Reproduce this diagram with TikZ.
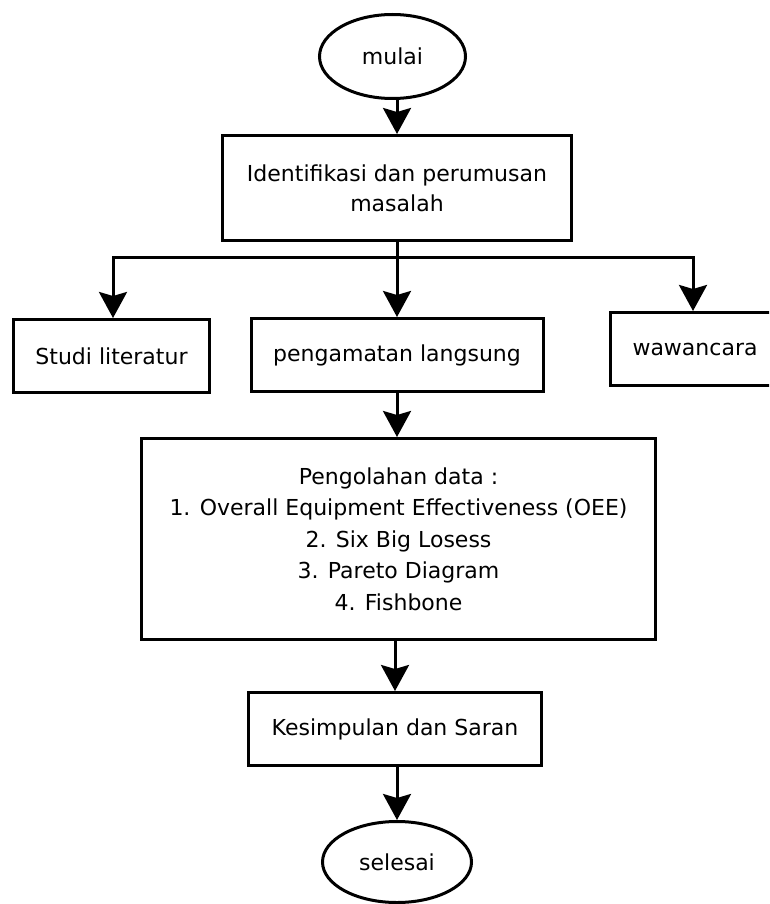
\documentclass[tikz,border=0pt]{standalone}
\usepackage{fontspec}
\setmainfont{DejaVu Sans}
\usetikzlibrary{shapes.geometric,arrows.meta}
\begin{document}
\begin{tikzpicture}[x=1pt,y=-1pt,
  every node/.style={font=\fontsize{22}{31.5}\selectfont, inner sep=0pt, line width=3pt, draw=black, align=center},
  boxnode/.style={rectangle},
  ovalnode/.style={ellipse},
  arr/.style={line width=3pt, -{Stealth[length=26pt,width=28pt,inset=4pt]}},
  ln/.style={line width=3pt}]
\useasboundingbox (0,0) rectangle (769,904);
\begin{scope}
\clip (0,0) rectangle (769,904);
\node[ovalnode, minimum width=146pt, minimum height=84pt] (mulai) at (392.5,56.5) {mulai};
\node[boxnode, minimum width=349pt, minimum height=105pt, font=\fontsize{22}{30}\selectfont] (ident) at (397,188) {Identifikasi dan perumusan\\masalah};
\node[boxnode, minimum width=196pt, minimum height=73pt] (studi) at (111.5,356) {Studi literatur};
\node[boxnode, minimum width=292pt, minimum height=73pt] (penga) at (397,355) {pengamatan langsung};
\node[boxnode, minimum width=169pt, minimum height=73pt] (wawan) at (695,349) {wawancara};
\node[boxnode, minimum width=514pt, minimum height=201pt] (olah) at (398.5,539) {Pengolahan data :\\1. Overall Equipment Effectiveness (OEE)\\2. Six Big Losess\\3. Pareto Diagram\\4. Fishbone};
\node[boxnode, minimum width=293pt, minimum height=73pt] (kesim) at (395,729) {Kesimpulan dan Saran};
\node[ovalnode, minimum width=149pt, minimum height=81pt] (selesai) at (397,862) {selesai};
\coordinate (jl) at (113,257);
\coordinate (jr) at (693,257);
\draw[arr] (mulai.south -| ident.north) -- (ident.north);
\draw[arr] (jl -| ident.south) -- (jl) -- (jl |- studi.north);
\draw[arr] (jl -| ident.south) -- (jr) -- (jr |- wawan.north);
\draw[arr] (ident.south) -- (penga.north);
\draw[arr] (penga.south) -- (penga.south |- olah.north);
\draw[arr] (olah.south -| kesim.north) -- (kesim.north);
\draw[arr] (kesim.south -| selesai.north) -- (selesai.north);
\end{scope}
\end{tikzpicture}
\end{document}
